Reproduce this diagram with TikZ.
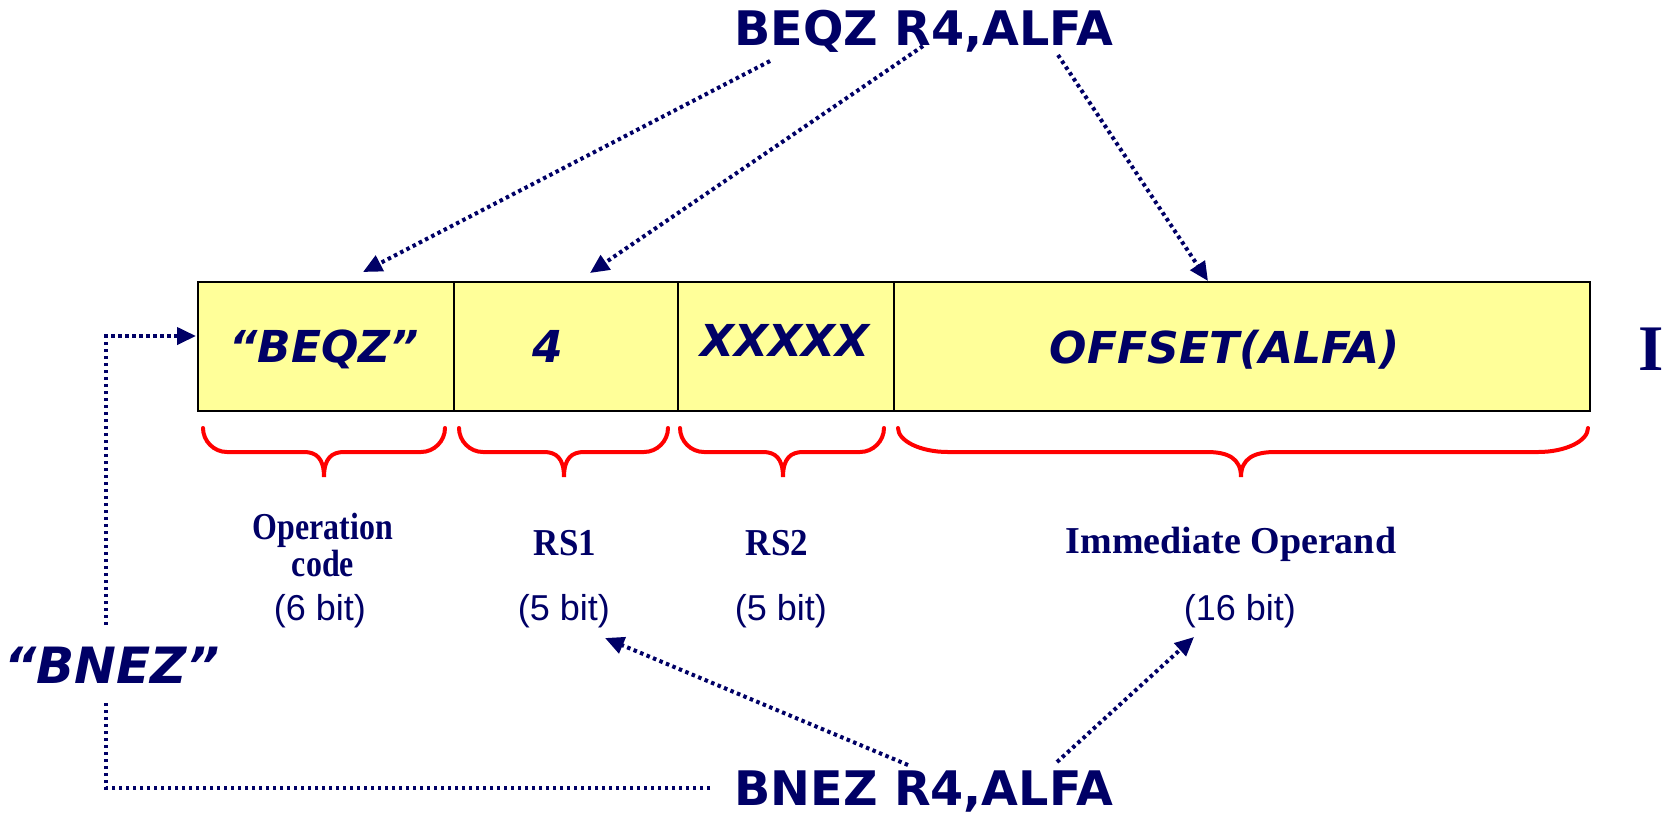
\documentclass[tikz,border=0pt]{standalone}
\usepackage{graphicx}
\usepackage{fontspec}
\setmainfont{Liberation Serif}
\newfontfamily\vsans{DejaVu Sans}
\newfontfamily\asans{Liberation Sans}
\usetikzlibrary{arrows.meta,calc}
\definecolor{navy}{RGB}{0,0,102}
\definecolor{fieldyellow}{RGB}{255,255,153}
\begin{document}
\begin{tikzpicture}[x=0.5pt,y=-0.5pt,
  fieldbox/.style={draw=black,line width=1pt,fill=fieldyellow,anchor=north west,
    inner sep=0pt,outer sep=0pt,minimum height=64.5pt},
  fieldtext/.style={text=navy,font=\vsans\bfseries\itshape\fontsize{22}{26}\selectfont,inner sep=0pt,anchor=base},
  instrtext/.style={text=navy,font=\vsans\bfseries\fontsize{23.8}{28}\selectfont,inner sep=0pt,anchor=base west},
  capttext/.style={text=navy,font=\bfseries\fontsize{19}{22}\selectfont,inner sep=0pt,anchor=base},
  bitstext/.style={text=navy,font=\asans\fontsize{18}{21}\selectfont,inner sep=0pt,anchor=base},
  dotlink/.style={navy,line width=2pt,dash pattern=on 1.75pt off 1.75pt},
  dotarrow/.style={dotlink,-{Triangle[length=9.5pt,width=8.5pt]}},
  redbrace/.style={red,line width=2pt,line cap=round}
]
\useasboundingbox (0,0) rectangle (1666,816);

% instruction word fields
\node[fieldbox,minimum width=128pt] (f1) at (198,282) {};
\node[fieldbox,minimum width=112pt] (f2) at (454,282) {};
\node[fieldbox,minimum width=108pt] (f3) at (678,282) {};
\node[fieldbox,minimum width=348pt] (f4) at (894,282) {};

\node[fieldtext] (t1) at (324,362) {“BEQZ”};
\node[fieldtext] (t2) at (548,362) {4};
\node[fieldtext] (t3) at (785,356) {XXXXX};
\node[fieldtext] (t4) at (1225,363) {OFFSET(ALFA)};

\node[text=navy,font=\bfseries\fontsize{32.5}{36}\selectfont,inner sep=0pt,anchor=base west] (edgeI) at (1638,370) {I};

% assembler instructions
\node[instrtext] (beq) at (734,45) {BEQZ R4,ALFA};
\node[instrtext] (bne) at (734,805) {BNEZ R4,ALFA};
\node[fieldtext,font=\vsans\bfseries\itshape\fontsize{25}{30}\selectfont] (bnezlbl) at (112,683) {“BNEZ”};

% braces under the fields
\foreach \xl/\xm/\xr/\re/\rc in {203/324/445/24/20, 459/564/668/24/20, 680/783/884/24/20, 898/1241/1588/50/34}
  \draw[redbrace] (\xl,428) .. controls (\xl,441) and (\xl+0.45*\re,452) .. (\xl+\re,452)
    -- (\xm-\rc,452) .. controls (\xm-0.4*\rc,452) and (\xm,458) .. (\xm,477)
    .. controls (\xm,458) and (\xm+0.4*\rc,452) .. (\xm+\rc,452)
    -- (\xr-\re,452) .. controls (\xr-0.45*\re,452) and (\xr,441) .. (\xr,428);

% field captions
\node[capttext] (c1a) at (323,539) {\scalebox{0.84}[1]{Operation}};
\node[capttext] (c1b) at (323,576) {\scalebox{0.84}[1]{code}};
\node[capttext] (c2) at (565,555) {\scalebox{0.92}[1]{RS1}};
\node[capttext] (c3) at (777,555) {\scalebox{0.92}[1]{RS2}};
\node[capttext] (c4) at (1231,553) {Immediate Operand};

\node[bitstext] (w1) at (320,620) {(6 bit)};
\node[bitstext] (w2) at (564,620) {(5 bit)};
\node[bitstext] (w3) at (781,620) {(5 bit)};
\node[bitstext] (w4) at (1240,620) {(16 bit)};

% connector end points
\coordinate (a1s) at (770,61);   \coordinate (a1e) at (363,272);
\coordinate (a2s) at (923,46);   \coordinate (a2e) at (590,273);
\coordinate (a3s) at (1058,55);  \coordinate (a3e) at (1208,281);
\coordinate (a5s) at (908,765);  \coordinate (a5e) at (605,638);
\coordinate (a6s) at (1057,762); \coordinate (a6e) at (1194,637);
\coordinate (bstart) at (710,788);
\coordinate (bcorner) at (106,788);
\coordinate (blow) at (106,702);
\coordinate (bhigh) at (106,625);
\coordinate (btop) at (106,336);
\coordinate (btip) at (196,336);

% BEQZ operands into the fields
\draw[dotarrow] (a1s) -- (a1e);
\draw[dotarrow] (a2s) -- (a2e);
\draw[dotarrow] (a3s) -- (a3e);

% BNEZ: same register and offset, other opcode
\draw[dotarrow] (a5s) -- (a5e);
\draw[dotarrow] (a6s) -- (a6e);
\draw[dotlink] (bstart) -- (bcorner) -- (blow);
\draw[dotarrow] (bhigh) -- (btop) -- (btip);
\end{tikzpicture}
\end{document}
